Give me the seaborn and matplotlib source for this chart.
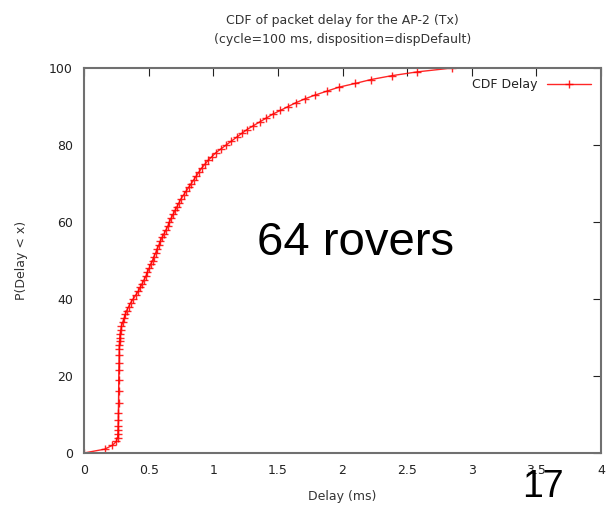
import matplotlib
matplotlib.use("Agg")
import matplotlib.pyplot as plt
import seaborn as sns
import pandas as pd

# CDF of packet delay: cumulative percentage and the delay (ms) reached at each level
percent = list(range(0, 101))
delay_ms = [
    0.00, 0.16, 0.22, 0.25, 0.26, 0.262, 0.263, 0.264, 0.265, 0.265,
    0.266, 0.266, 0.267, 0.267, 0.267, 0.268, 0.268, 0.268, 0.269, 0.269,
    0.269, 0.270, 0.270, 0.271, 0.271, 0.272, 0.272, 0.273, 0.274, 0.275,
    0.277, 0.280, 0.285, 0.290, 0.300, 0.310, 0.320, 0.330, 0.345, 0.360,
    0.380, 0.400, 0.420, 0.435, 0.450, 0.465, 0.480, 0.490, 0.505, 0.515,
    0.530, 0.540, 0.555, 0.565, 0.580, 0.590, 0.605, 0.620, 0.635, 0.650,
    0.660, 0.675, 0.690, 0.705, 0.720, 0.735, 0.750, 0.770, 0.790, 0.810,
    0.830, 0.850, 0.870, 0.890, 0.910, 0.935, 0.960, 0.990, 1.020, 1.060,
    1.100, 1.140, 1.180, 1.220, 1.260, 1.310, 1.360, 1.410, 1.460, 1.520,
    1.580, 1.640, 1.710, 1.790, 1.880, 1.970, 2.100, 2.220, 2.380, 2.580,
    2.850,
]
x_ticks = [0, 0.5, 1, 1.5, 2, 2.5, 3, 3.5, 4]
x_tick_labels = ["0", "0.5", "1", "1.5", "2", "2.5", "3", "3.5", "4"]
y_ticks = [0, 20, 40, 60, 80, 100]

df = pd.DataFrame({"Delay (ms)": delay_ms, "P": percent})

sns.set_theme(style="white")
plt.rcParams["font.family"] = ["DejaVu Sans"]

fig = plt.figure(figsize=(6.16, 5.19), dpi=100)
ax = fig.add_axes([84 / 616, 66 / 519, 517 / 616, 385 / 519])

sns.lineplot(
    data=df, x="Delay (ms)", y="P", sort=False, ax=ax,
    color="#ff0000", linewidth=1.0, alpha=0.85,
    marker="+", markersize=6, markeredgewidth=1.0,
    markeredgecolor="#ff0000", label="CDF Delay",
)

ax.set_xlim(0, 4)
ax.set_ylim(0, 100)
ax.set_xticks(x_ticks)
ax.set_xticklabels(x_tick_labels)
ax.set_yticks(y_ticks)
ax.tick_params(direction="in", length=6, width=0.8, color="#222222",
               top=True, right=True, labelsize=9, labelcolor="#222222",
               pad=8)
for s in ax.spines.values():
    s.set_color("#707070")
    s.set_linewidth(1.5)

ax.set_xlabel("Delay (ms)", fontsize=9, color="#333333", labelpad=9)
ax.set_ylabel("P(Delay < x)", fontsize=9, color="#333333", labelpad=15)
ax.set_title("CDF of packet delay for the AP-2 (Tx)\n(cycle=100 ms, disposition=dispDefault)",
             fontsize=9, color="#333333", pad=18, linespacing=1.6)

leg = ax.legend(loc="upper right", frameon=False, markerfirst=False,
                handlelength=3.5, fontsize=9, borderaxespad=0.4)
for t in leg.get_texts():
    t.set_color("#222222")

ax.text(2.10, 54.5, "64 rovers", fontsize=34, family="Liberation Sans",
        ha="center", va="center", color="black")
fig.text(543 / 616, 1 - 487 / 519, "17", fontsize=27, family="Liberation Sans",
         ha="center", va="center", color="black")

fig.savefig("out.png", dpi=100)
